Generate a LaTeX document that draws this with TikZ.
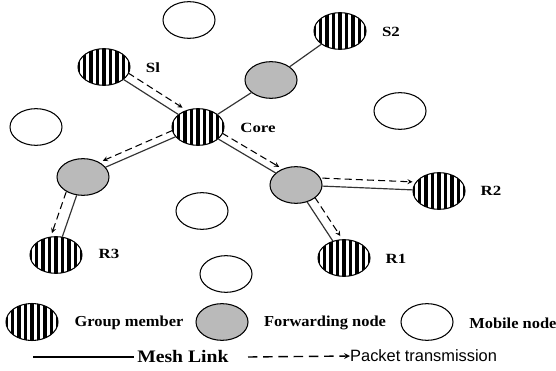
\documentclass[tikz,border=0pt]{standalone}
\usepackage{fontspec}
\setmainfont{Liberation Serif}
\newfontfamily\pktfont{Liberation Sans}
\usetikzlibrary{shapes.geometric, arrows, calc}
\tikzstyle{mobile} = [ellipse, draw, line width=0.9pt, minimum width=1.56cm, minimum height=1.1cm, inner sep=0]
\tikzstyle{fwd} = [mobile, fill=black!27]
\tikzstyle{member} = [mobile, path picture={\foreach \k in {-4,...,4} \fill ($(path picture bounding box.center)+(\k*6.5-1.6,-30)$) rectangle ++(3.2,60);}]
\tikzstyle{lbl} = [font=\fontsize{12}{14}\selectfont\bfseries, inner sep=0, xscale=1.2]
\tikzstyle{legtxt} = [font=\fontsize{13}{15}\selectfont\bfseries, inner sep=0, xscale=1.08]
\tikzstyle{line} = [draw, line width=1pt, black!80]
\tikzstyle{pkt} = [draw, ->, >=stealth, line width=0.9pt, dash pattern=on 6pt off 3.5pt]

\begin{document}
\begin{tikzpicture}[x=0.03cm, y=-0.03cm]
\useasboundingbox (0,0) rectangle (556,371);

% mobile nodes
\node [mobile] (M1) at (189,20) {};
\node [mobile] (M2) at (36,127) {};
\node [mobile] (M3) at (400,111) {};
\node [mobile] (M4) at (202,211) {};
\node [mobile] (M5) at (226,274) {};

% group members and forwarding nodes
\node [member] (S1) at (104,67) {};
\node [member] (S2) at (340,31) {};
\node [member] (Core) at (198,127) {};
\node [fwd] (F1) at (271,80) {};
\node [fwd] (F2) at (83,177) {};
\node [fwd] (F3) at (296,185) {};
\node [member] (R2) at (439,191) {};
\node [member] (R1) at (344,258) {};
\node [member] (R3) at (56,255) {};

\node [lbl] (tS1) at (153,68) {Sl};
\node [lbl] (tS2) at (391,32) {S2};
\node [lbl] (tCore) at (258,128) {Core};
\node [lbl] (tR2) at (491,191) {R2};
\node [lbl] (tR1) at (396,259) {R1};
\node [lbl] (tR3) at (109,254) {R3};

% mesh links
\path [line] (S1) -- (Core);
\path [line] (Core) -- (F1);
\path [line] (F1) -- (S2);
\path [line] (Core) -- (F2);
\path [line] (F2) -- (R3);
\path [line] (Core) -- (F3);
\path [line] (F3) -- (R2);
\path [line] (F3) -- (R1);

% packet transmission
\path [pkt, transform canvas={shift={(4.3,-6.7)}}] (S1) -- (Core);
\path [pkt, transform canvas={shift={(-2.8,-6.4)}}] (Core) -- (F2);
\path [pkt, transform canvas={shift={(-10.4,-3.6)}}] (F2) -- (R3);
\path [pkt, transform canvas={shift={(3.6,-6.0)}}] (Core) -- (F3);
\path [pkt, transform canvas={shift={(0,-8)}}] (F3) -- (R2);
\path [pkt, transform canvas={shift={(7.5,-4.9)}}] (F3) -- (R1);

% legend
\node [member, minimum width=1.56cm, minimum height=1.11cm] (LM) at (32,322) {};
\node [legtxt] (tLM) at (129,323) {Group member};
\node [fwd] (LF) at (222,322) {};
\node [legtxt] (tLF) at (325,323) {Forwarding node};
\node [mobile] (LN) at (427,322) {};
\node [legtxt, anchor=west] (tLN) at (469,323) {Mobile node};

\coordinate (m0) at (33,357);
\coordinate (m1) at (134,357);
\node [legtxt, anchor=west, font=\fontsize{15}{17}\selectfont\bfseries, xscale=1.12/1.08] (tMesh) at (137,356) {Mesh Link};
\path [line, black] (m0) -- (m1);
\coordinate (p0) at (248,357);
\node [anchor=west, inner sep=0, font=\fontsize{14}{16}\selectfont\pktfont] (tPkt) at (350,356) {Packet transmission};
\path [pkt, line width=1.2pt, dash pattern=on 8pt off 5pt] (p0) -- (tPkt.west);
\end{tikzpicture}
\end{document}
